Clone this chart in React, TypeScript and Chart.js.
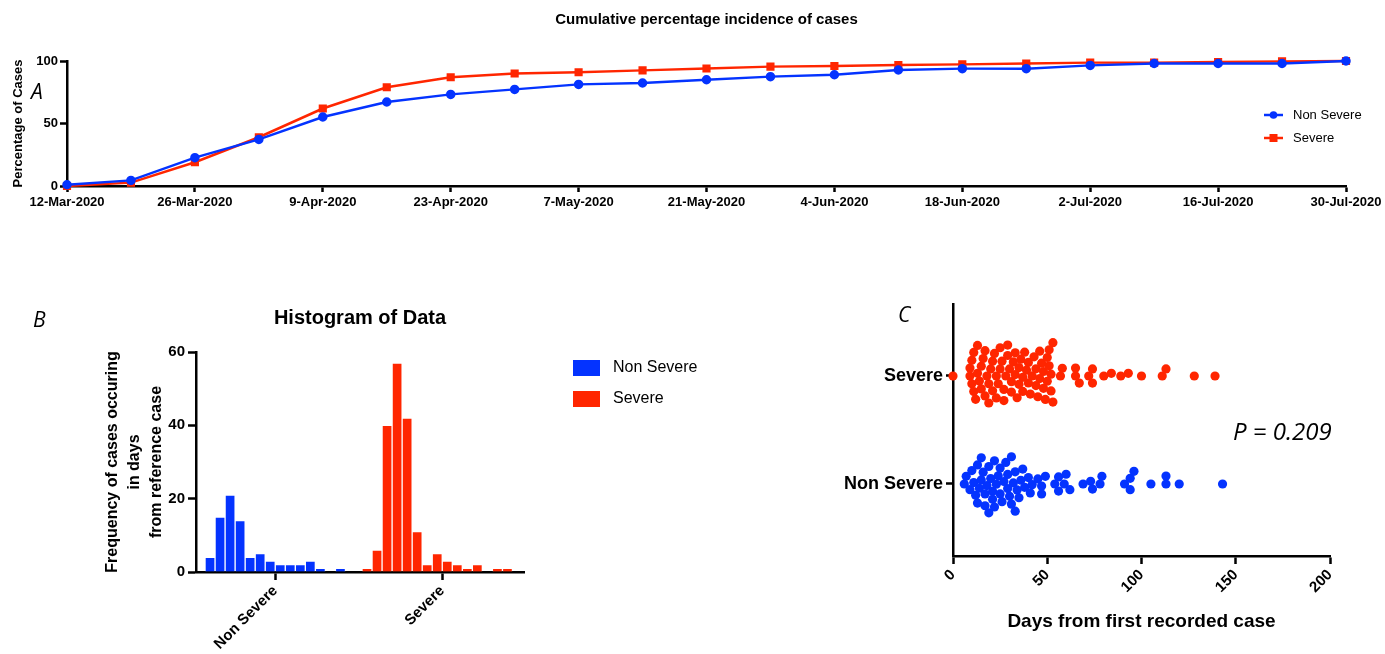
import { useEffect, useRef } from "react";
import Chart from "chart.js/auto";

// ---- data ----
const weekDates = [
  "12-Mar-2020", "19-Mar-2020", "26-Mar-2020", "2-Apr-2020", "9-Apr-2020",
  "16-Apr-2020", "23-Apr-2020", "30-Apr-2020", "7-May-2020", "14-May-2020",
  "21-May-2020", "28-May-2020", "4-Jun-2020", "11-Jun-2020", "18-Jun-2020",
  "25-Jun-2020", "2-Jul-2020", "9-Jul-2020", "16-Jul-2020", "23-Jul-2020",
  "30-Jul-2020",
];
const nonSevereCumulative = [1, 4.5, 22.7, 37.3, 55.2, 67.2, 73.3, 77.3, 81.3, 82.4, 85, 87.5, 89, 92.8, 93.9, 93.9, 96.5, 98, 98, 98, 100];
const severeCumulative = [0, 2.7, 19, 39, 62, 79, 87, 90, 91, 92.5, 94, 95.5, 96, 96.8, 97.3, 98, 98.7, 98.7, 99.2, 99.7, 100];

const histGroups = ["Non Severe", "Severe"];
const nonSevereFreq = [4, 15, 21, 14, 4, 5, 3, 2, 2, 2, 3, 1, 0, 1];
const severeFreq = [1, 6, 40, 57, 42, 11, 2, 5, 3, 2, 1, 2, 0, 1, 1, 0];

const swarmGroups = ["Non Severe", "Severe"];
const nonSevereDays = [
  6, 7, 9, 10, 11, 12, 13, 13, 14, 15, 15, 16, 17, 17, 18, 19, 19, 20, 21, 21,
  22, 22, 23, 24, 25, 25, 26, 27, 28, 29, 29, 30, 31, 31, 32, 33, 33, 34, 35, 36,
  37, 38, 40, 41, 42,
  45, 47, 47, 49, 54, 56, 56, 59, 60, 62, 69, 73, 74, 78, 79, 91, 94, 94, 96, 105,
  113, 113, 120, 143,
];
const severeDays = [
  0,
  9, 9, 10, 10, 11, 11, 12, 13, 13, 14, 15, 15, 16, 17, 17, 18, 19, 19, 20, 21,
  21, 22, 23, 23, 24, 25, 25, 26, 27, 27, 28, 29, 29, 30, 31, 31, 32, 33, 33, 34,
  35, 35, 36, 37, 37, 38, 39, 40, 40, 41, 42, 43, 44, 44, 45, 46, 46, 47, 48, 48,
  49, 50, 50, 51, 51, 52, 52, 53, 53,
  57, 58, 65, 65, 67, 72, 74, 74, 80, 84, 89, 93, 100, 111, 113, 128, 139,
];

// ---- styling ----
const BLUE = "#0433FF";
const RED = "#FF2600";
const FONT = "'Liberation Sans', Arial, Helvetica, sans-serif";
const ITALIC = "'Open Sans', 'Noto Sans', sans-serif";

Chart.defaults.font.family = FONT;
Chart.defaults.color = "#000";

const border = { display: true, color: "#000", width: 2.5 };
const tickMarks = (len: number) => ({
  display: true,
  offset: false,
  drawOnChartArea: false,
  drawTicks: true,
  tickLength: len,
  tickWidth: 2.5,
  tickColor: "#000",
  color: "#000",
});
const bold = (size: number) => ({ family: FONT, size, weight: "bold" as const });

type Note = { text: string; x: number; y: number; font: string };
const notesPlugin = (notes: Note[]) => ({
  id: "notes",
  afterDraw(chart: Chart) {
    const { ctx } = chart;
    ctx.save();
    ctx.fillStyle = "#000";
    ctx.textBaseline = "alphabetic";
    ctx.textAlign = "left";
    notes.forEach((n) => {
      ctx.font = n.font;
      ctx.fillText(n.text, n.x, n.y);
    });
    ctx.restore();
  },
});

// legend for the line chart: line segment + marker + name
const lineLegend = {
  id: "lineLegend",
  afterDraw(chart: Chart) {
    const { ctx, chartArea } = chart;
    ctx.save();
    chart.data.datasets.forEach((ds: any, i: number) => {
      const y = chartArea.top + 54 + i * 23;
      const x0 = chartArea.right - 82;
      ctx.strokeStyle = ds.borderColor;
      ctx.fillStyle = ds.borderColor;
      ctx.lineWidth = 2.5;
      ctx.beginPath();
      ctx.moveTo(x0, y);
      ctx.lineTo(x0 + 19, y);
      ctx.stroke();
      if (ds.pointStyle === "rect") {
        ctx.fillRect(x0 + 9.5 - 4, y - 4, 8, 8);
      } else {
        ctx.beginPath();
        ctx.arc(x0 + 9.5, y, 3.8, 0, Math.PI * 2);
        ctx.fill();
      }
      ctx.fillStyle = "#000";
      ctx.font = `13px ${FONT}`;
      ctx.textBaseline = "middle";
      ctx.fillText(ds.label, x0 + 29, y);
    });
    ctx.restore();
  },
};

// legend for the histogram: filled boxes + names
const boxLegend = {
  id: "boxLegend",
  afterDraw(chart: Chart) {
    const { ctx, chartArea } = chart;
    ctx.save();
    chart.data.datasets.forEach((ds: any, i: number) => {
      const y = chartArea.top + 8 + i * 31;
      ctx.fillStyle = ds.backgroundColor;
      ctx.fillRect(chartArea.right + 49, y, 27, 16);
      ctx.fillStyle = "#000";
      ctx.font = `16px ${FONT}`;
      ctx.textBaseline = "middle";
      ctx.fillText(ds.label, chartArea.right + 89, y + 8);
    });
    ctx.restore();
  },
};

function CumulativeChart() {
  const ref = useRef<HTMLCanvasElement | null>(null);
  useEffect(() => {
    if (!ref.current) return;
    const chart = new Chart(ref.current, {
      type: "line",
      data: {
        labels: weekDates,
        datasets: [
          {
            label: "Non Severe",
            data: nonSevereCumulative,
            borderColor: BLUE,
            backgroundColor: BLUE,
            pointStyle: "circle",
            pointRadius: 3.5,
            borderWidth: 2.5,
            clip: false,
          },
          {
            label: "Severe",
            data: severeCumulative,
            borderColor: RED,
            backgroundColor: RED,
            pointStyle: "rect",
            pointRadius: 4,
            borderWidth: 2.5,
            clip: false,
          },
        ],
      },
      options: {
        responsive: true,
        maintainAspectRatio: false,
        animation: false,
        layout: { padding: { left: 0, right: 39, top: 0, bottom: 0 } },
        plugins: {
          legend: { display: false },
          tooltip: { enabled: false },
          title: {
            display: true,
            text: "Cumulative percentage incidence of cases",
            fullSize: false,
            color: "#000",
            font: bold(15),
            padding: { top: 11, bottom: 32 },
          },
        },
        scales: {
          x: {
            type: "category",
            offset: false,
            border,
            grid: tickMarks(6),
            ticks: {
              autoSkip: false,
              maxRotation: 0,
              padding: 3,
              color: "#000",
              font: bold(13),
              callback: (_v: any, i: number) => (i % 2 === 0 ? weekDates[i] : null),
            },
            afterFit: (s: any) => {
              s.height = 29;
            },
          },
          y: {
            min: 0,
            max: 100,
            border,
            grid: tickMarks(7),
            ticks: { stepSize: 50, padding: 2, color: "#000", font: bold(13) },
            title: {
              display: true,
              text: "Percentage of Cases",
              color: "#000",
              font: bold(13),
              padding: { top: 11, bottom: 0 },
            },
            afterFit: (s: any) => {
              s.width = 67;
            },
          },
        },
      },
      plugins: [lineLegend, notesPlugin([{ text: "A", x: 31, y: 99, font: `italic 21px ${ITALIC}` }])],
    });
    return () => chart.destroy();
  }, []);
  return (
    <div style={{ position: "absolute", left: 0, top: 0, width: 1385, height: 215 }}>
      <canvas ref={ref} />
    </div>
  );
}

// histogram bins laid out around each group's tick (units = one bin width)
const NS_CENTER = 7.9;
const S_CENTER = 24.55;
const binPoints = (freq: number[], center: number) =>
  freq.map((y, i) => ({ x: center + i - (freq.length - 1) / 2, y }));

function HistogramChart() {
  const ref = useRef<HTMLCanvasElement | null>(null);
  useEffect(() => {
    if (!ref.current) return;
    const barStyle = {
      grouped: false,
      barPercentage: 1,
      categoryPercentage: 1,
      borderWidth: 1,
      borderColor: "rgba(255,255,255,0.3)",
    };
    const chart = new Chart(ref.current, {
      type: "bar",
      data: {
        datasets: [
          { label: histGroups[0], data: binPoints(nonSevereFreq, NS_CENTER), backgroundColor: BLUE, ...barStyle },
          { label: histGroups[1], data: binPoints(severeFreq, S_CENTER), backgroundColor: RED, ...barStyle },
        ],
      },
      options: {
        responsive: true,
        maintainAspectRatio: false,
        animation: false,
        layout: { padding: { left: 0, right: 196, top: 0, bottom: 0 } },
        plugins: {
          legend: { display: false },
          tooltip: { enabled: false },
          title: {
            display: true,
            text: "Histogram of Data",
            fullSize: false,
            color: "#000",
            font: bold(20),
            padding: { top: 16, bottom: 22 },
          },
        },
        scales: {
          x: {
            type: "linear",
            offset: false,
            min: 0,
            max: 32.7,
            border,
            grid: tickMarks(8),
            afterBuildTicks: (s: any) => {
              s.ticks = [{ value: NS_CENTER }, { value: S_CENTER }];
            },
            ticks: {
              autoSkip: false,
              minRotation: 45,
              maxRotation: 45,
              padding: 2,
              color: "#000",
              font: bold(15),
              callback: (_v: any, i: number) => histGroups[i],
            },
            afterFit: (s: any) => {
              s.height = 82;
            },
          },
          y: {
            min: 0,
            max: 60,
            border,
            grid: tickMarks(8),
            ticks: { stepSize: 20, padding: 3, color: "#000", font: bold(15) },
            title: {
              display: true,
              text: ["Frequency of cases occuring", "in days", "from reference case"],
              color: "#000",
              font: { ...bold(16), lineHeight: 1.375 },
              padding: { top: 102, bottom: 0 },
            },
            afterFit: (s: any) => {
              s.width = 196;
            },
          },
        },
      },
      plugins: [boxLegend, notesPlugin([{ text: "B", x: 33, y: 37, font: `italic 21px ${ITALIC}` }])],
    });
    return () => chart.destroy();
  }, []);
  return (
    <div style={{ position: "absolute", left: 0, top: 290, width: 720, height: 364 }}>
      <canvas ref={ref} />
    </div>
  );
}

// simple beeswarm: each value goes to the free vertical offset nearest its group line
const SWARM_PX_PER_DAY = 377 / 200;
const SWARM_PX_PER_LEVEL = 108;
const SWARM_DIAMETER = 8;
function swarm(days: number[], level: number) {
  const d = SWARM_DIAMETER;
  const placed: { px: number; py: number; day: number }[] = [];
  [...days]
    .sort((a, b) => a - b)
    .forEach((day) => {
      const px = day * SWARM_PX_PER_DAY;
      const near = placed.filter((p) => Math.abs(p.px - px) < d);
      const options = [0];
      near.forEach((p) => {
        const dy = Math.sqrt(d * d - (p.px - px) ** 2);
        options.push(p.py + dy, p.py - dy);
      });
      options.sort((a, b) => Math.abs(a) - Math.abs(b));
      const py =
        options.find((c) => near.every((p) => (p.px - px) ** 2 + (p.py - c) ** 2 >= d * d - 0.01)) ?? 0;
      placed.push({ px, py, day });
    });
  return placed.map((p) => ({ x: p.day, y: level + p.py / SWARM_PX_PER_LEVEL }));
}

function SwarmChart() {
  const ref = useRef<HTMLCanvasElement | null>(null);
  useEffect(() => {
    if (!ref.current) return;
    const chart = new Chart(ref.current, {
      type: "scatter",
      data: {
        datasets: [
          { label: swarmGroups[1], data: swarm(severeDays, 2), backgroundColor: RED, pointRadius: 4.6, borderWidth: 0, clip: false },
          { label: swarmGroups[0], data: swarm(nonSevereDays, 1), backgroundColor: BLUE, pointRadius: 4.6, borderWidth: 0, clip: false },
        ],
      },
      options: {
        responsive: true,
        maintainAspectRatio: false,
        animation: false,
        layout: { padding: { left: 0, right: 55, top: 14, bottom: 0 } },
        plugins: {
          legend: { display: false },
          tooltip: { enabled: false },
        },
        scales: {
          x: {
            type: "linear",
            min: 0,
            max: 200,
            border,
            grid: tickMarks(8),
            ticks: {
              stepSize: 50,
              minRotation: 45,
              maxRotation: 45,
              padding: 2,
              color: "#000",
              font: bold(15),
            },
            title: {
              display: true,
              text: "Days from first recorded case",
              color: "#000",
              font: bold(19),
              padding: { top: 0, bottom: 21 },
            },
            afterFit: (s: any) => {
              s.height = 98;
            },
          },
          y: {
            type: "linear",
            min: 1 / 3,
            max: 8 / 3,
            border,
            grid: tickMarks(7),
            afterBuildTicks: (s: any) => {
              s.ticks = [{ value: 1 }, { value: 2 }];
            },
            ticks: {
              padding: 3,
              color: "#000",
              font: bold(18),
              callback: (_v: any, i: number) => swarmGroups[i],
            },
            afterFit: (s: any) => {
              s.width = 233;
            },
          },
        },
      },
      plugins: [
        notesPlugin([
          { text: "C", x: 178, y: 32, font: `italic 21px ${ITALIC}` },
          { text: "P = 0.209", x: 513, y: 150, font: `italic 24px ${ITALIC}` },
        ]),
      ],
    });
    return () => chart.destroy();
  }, []);
  return (
    <div style={{ position: "absolute", left: 720, top: 290, width: 665, height: 364 }}>
      <canvas ref={ref} />
    </div>
  );
}

export default function App() {
  return (
    <div style={{ position: "absolute", left: 0, top: 0, width: 1385, height: 654, background: "#fff" }}>
      <CumulativeChart />
      <HistogramChart />
      <SwarmChart />
    </div>
  );
}
